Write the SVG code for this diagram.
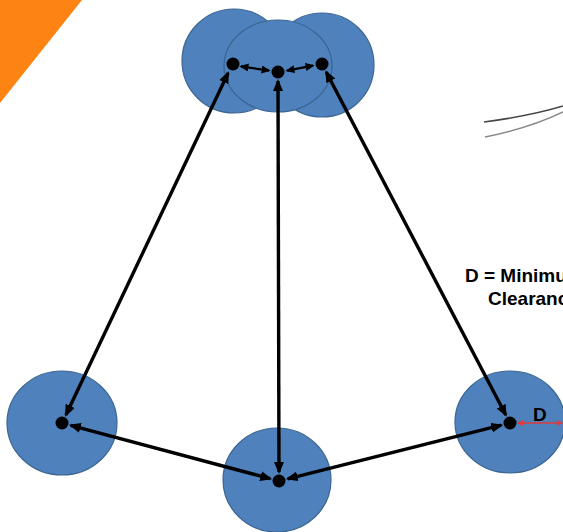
<svg xmlns="http://www.w3.org/2000/svg" width="563" height="532" viewBox="0 0 563 532">
<style>
.c{fill:#4f81bd;stroke:#3b6592;stroke-width:1.2}
.dot{fill:#000}
.a{stroke:#000;stroke-width:3.4;fill:none;marker-start:url(#ah);marker-end:url(#ah)}
.as{stroke:#000;stroke-width:2.4;fill:none;marker-start:url(#ahs);marker-end:url(#ahs)}
.t{font-family:"Liberation Sans",Arial,sans-serif;font-weight:bold;font-size:19px;fill:#000}
</style>
<defs>
<marker id="ah" markerUnits="userSpaceOnUse" viewBox="0 0 12 10" refX="10" refY="5" markerWidth="12" markerHeight="10" orient="auto-start-reverse">
<path d="M0,0 L12,5 L0,10 z" fill="#000"/>
</marker>
<marker id="ahs" markerUnits="userSpaceOnUse" viewBox="0 0 9 8" refX="7.5" refY="4" markerWidth="9" markerHeight="8" orient="auto-start-reverse">
<path d="M0,0 L9,4 L0,8 z" fill="#000"/>
</marker>
<marker id="ahr" markerUnits="userSpaceOnUse" viewBox="0 0 6 6" refX="5" refY="3" markerWidth="6" markerHeight="6" orient="auto-start-reverse">
<path d="M0,0 L6,3 L0,6 z" fill="#e03a3a"/>
</marker>
</defs>
<polygon points="0,0 82,0 0,103" fill="#fd8412"/>
<g id="curves" fill="none">
<path d="M484,122 Q530,116 563,106" stroke="#444" stroke-width="1.6"/>
<path d="M485,137 Q530,128 563,112" stroke="#888" stroke-width="1.4"/>
</g>
<g id="node-top-left"><circle class="c" cx="234" cy="61" r="52"/></g>
<g id="node-top-right"><circle class="c" cx="322" cy="65" r="52"/></g>
<g id="node-top-mid"><ellipse class="c" cx="278" cy="66" rx="54" ry="46"/></g>
<g id="node-left"><ellipse class="c" cx="62" cy="423" rx="55" ry="52"/></g>
<g id="node-bottom"><ellipse class="c" cx="277" cy="480" rx="54" ry="52"/></g>
<g id="node-right"><ellipse class="c" cx="510" cy="422" rx="55" ry="51"/></g>
<g id="connectors">
<line class="a" x1="228.1" y1="73.1" x2="65.9" y2="414.9"/>
<line class="a" x1="278" y1="81" x2="279" y2="472"/>
<line class="a" x1="326.2" y1="72" x2="505.8" y2="415"/>
<line class="a" x1="70.7" y1="425.3" x2="270.3" y2="478.7"/>
<line class="a" x1="287.7" y1="478.8" x2="501.3" y2="425.2"/>
<line class="as" x1="240.9" y1="66.4" x2="269.1" y2="70.6"/>
<line class="as" x1="286.9" y1="70.6" x2="313.1" y2="65.6"/>
<line x1="518" y1="423" x2="562" y2="423" stroke="#e03a3a" stroke-width="1.3" marker-start="url(#ahr)" marker-end="url(#ahr)"/>
</g>
<g id="dots">
<circle class="dot" cx="233" cy="64" r="6.5"/>
<circle class="dot" cx="278" cy="72" r="6.5"/>
<circle class="dot" cx="322" cy="64" r="6.5"/>
<circle class="dot" cx="62" cy="423" r="6.5"/>
<circle class="dot" cx="279" cy="481" r="6.5"/>
<circle class="dot" cx="510" cy="423" r="6.5"/>
</g>
<g id="labels">
<text class="t" x="533" y="421">D</text>
<text class="t" x="465" y="282">D = Minimum</text>
<text class="t" x="488" y="305">Clearance</text>
</g>
</svg>
